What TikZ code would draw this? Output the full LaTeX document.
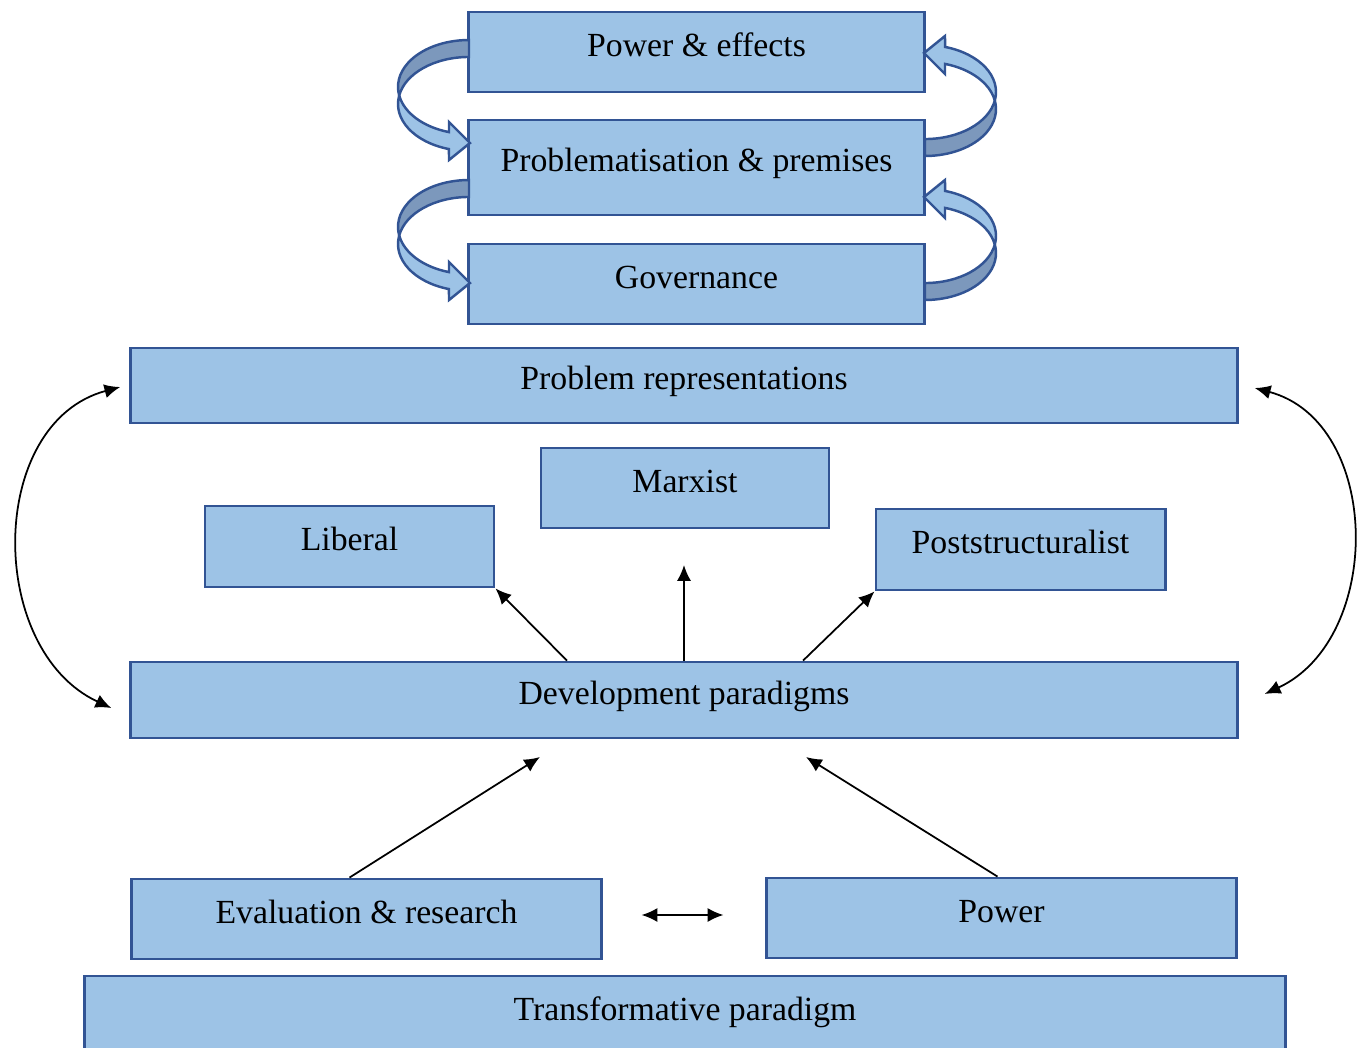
\documentclass[tikz,border=0pt]{standalone}
\usepackage{fontspec}
\setmainfont{Liberation Serif}
\usepackage{tikz}
\usetikzlibrary{arrows.meta}
\definecolor{boxfill}{RGB}{157, 195, 230}
\definecolor{boxline}{RGB}{50, 84, 148}
\definecolor{backfill}{RGB}{124, 152, 188}

\tikzset{
  blok/.style={draw=boxline, fill=boxfill, line width=0.8pt, inner sep=0pt,
    text height=7pt, text depth=4.6pt},
  arr/.style={-{Latex[length=4.5pt, width=4pt]}, line width=0.5pt},
  dbl/.style={{Latex[length=4.5pt, width=4pt]}-{Latex[length=4.5pt, width=4pt]}, line width=0.5pt},
  bentarrow/.pic={
    % back side of the band
    \filldraw[fill=backfill, draw=boxline, line width=0.7pt]
      (0, 47) arc[start angle=90, end angle=190.4, x radius=71, y radius=47]
      arc[start angle=169.6, end angle=90, x radius=71, y radius=47] -- cycle;
    % front side and head
    \filldraw[fill=boxfill, draw=boxline, line width=0.7pt]
      (-69.83, -8.5) arc[start angle=169.6, end angle=253.6, x radius=71, y radius=47]
      -- (-20, -73) -- (1, -56) -- (-20, -35) -- (-20, -45.1)
      arc[start angle=253.6, end angle=190.4, x radius=71, y radius=47] -- cycle;
  }
}

\begin{document}
\begin{tikzpicture}[x=0.01cm, y=0.01cm, font=\fontsize{9.6}{11}\selectfont]

  \useasboundingbox (0, 0) rectangle (1363, -1048);

  \node[blok, minimum width=4.55cm, minimum height=0.80cm] (pe) at (696.5, -52) {Power \& effects};
  \node[blok, minimum width=4.55cm, minimum height=0.95cm] (pp) at (696.5, -167.5) {Problematisation \& premises};
  \node[blok, minimum width=4.55cm, minimum height=0.80cm] (gov) at (696.5, -284) {Governance};

  \pic at (469, -87) {bentarrow};
  \pic at (469, -227) {bentarrow};
  \pic[rotate=180] at (925, -109) {bentarrow};
  \pic[rotate=180] at (925, -253) {bentarrow};

  \node[blok, minimum width=11.06cm, minimum height=0.75cm] (pr) at (684, -385.5) {Problem representations};
  \node[blok, minimum width=2.88cm, minimum height=0.80cm] (marx) at (685, -488) {Marxist};
  \node[blok, minimum width=2.89cm, minimum height=0.81cm] (lib) at (349.5, -546.5) {Liberal};
  \node[blok, minimum width=2.89cm, minimum height=0.81cm] (post) at (1020.5, -549.5) {Poststructuralist};
  \node[blok, minimum width=11.06cm, minimum height=0.76cm] (dev) at (684, -700) {Development paradigms};
  \node[blok, minimum width=4.69cm, minimum height=0.80cm] (eval) at (366.5, -919) {Evaluation \& research};
  \node[blok, minimum width=4.69cm, minimum height=0.80cm] (pow) at (1001.5, -918) {Power};
  \node[blok, minimum width=12.00cm, minimum height=0.80cm] (trans) at (685, -1016) {Transformative paradigm};

  \coordinate (mtip) at (684, -565);
  \coordinate (etip) at (540, -757);
  \coordinate (ptip) at (806, -757);

  \draw[arr] ([xshift=-1.17cm]dev.north) -- (lib.south east);
  \draw[arr] (dev.north) -- (mtip);
  \draw[arr] ([xshift=1.19cm]dev.north) -- (post.south west);
  \draw[arr] ([xshift=-0.17cm]eval.north) -- (etip);
  \draw[arr] ([xshift=-0.04cm]pow.north) -- (ptip);
  \draw[dbl] ([xshift=0.39cm, yshift=0.04cm]eval.east) -- ([xshift=-0.42cm, yshift=0.03cm]pow.west);

  \draw[dbl] ([xshift=-0.18cm, yshift=-0.08cm]dev.west)
    to[out=155, in=195, looseness=1.1] ([xshift=-0.09cm, yshift=-0.015cm]pr.west);
  \draw[dbl] ([xshift=0.16cm, yshift=-0.025cm]pr.east)
    to[out=-15, in=25, looseness=1.1] ([xshift=0.26cm, yshift=0.06cm]dev.east);

\end{tikzpicture}
\end{document}
